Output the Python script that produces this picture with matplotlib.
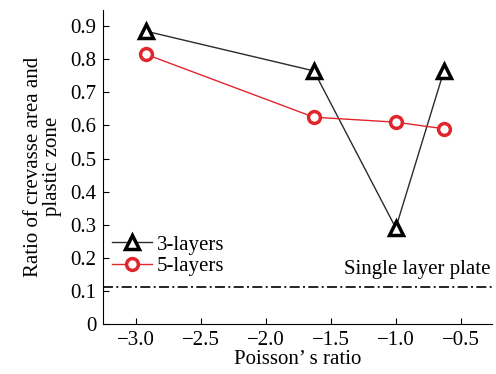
import matplotlib
matplotlib.use("Agg")
import matplotlib.pyplot as plt

# Poisson's ratio vs. ratio of crevasse area to plastic zone
poisson_3 = [-2.92, -1.63, -1.0, -0.63]
ratio_3 = [0.885, 0.765, 0.29, 0.765]
poisson_5 = [-2.92, -1.63, -1.0, -0.63]
ratio_5 = [0.815, 0.625, 0.61, 0.59]
single_layer = 0.113

plt.rcParams['font.family'] = ['Liberation Serif', 'DejaVu Serif']

fig = plt.figure(figsize=(4.96, 3.74), dpi=100)
ax = fig.add_axes([0.208, 0.134, 0.784, 0.84])

ax.plot(poisson_3, ratio_3, color='#2b2b2b', linewidth=1.0, marker='^',
        markersize=9.5, markerfacecolor='white', markeredgecolor='black',
        markeredgewidth=2.5, label='3-layers', zorder=3)
ax.plot(poisson_5, ratio_5, color='#e0262d', linewidth=1.0, marker='o',
        markersize=8.5, markerfacecolor='white', markeredgecolor='#e0262d',
        markeredgewidth=2.5, label='5-layers', zorder=3)
ax.axhline(single_layer, color='black', linestyle='-.', linewidth=1.2,
           dashes=(6, 2, 1.2, 2))
ax.text(-0.27, single_layer + 0.022, 'Single layer plate', ha='right',
        va='bottom', fontsize=15)

ax.set_xlim(-3.25, -0.26)
ax.set_ylim(0, 0.95)
ax.set_xticks([-3.0, -2.5, -2.0, -1.5, -1.0, -0.5])
ax.set_xticklabels(['\u22123.0', '\u22122.5', '\u22122.0', '\u22121.5', '\u22121.0', '\u22120.5'])
ax.set_yticks([0, 0.1, 0.2, 0.3, 0.4, 0.5, 0.6, 0.7, 0.8, 0.9])
ax.set_yticklabels(['0', '0.1', '0.2', '0.3', '0.4', '0.5', '0.6', '0.7', '0.8', '0.9'])
ax.tick_params(direction='in', labelsize=15, length=4, pad=5)
ax.spines['top'].set_visible(False)
ax.spines['right'].set_visible(False)

ax.set_xlabel('Poisson\u2019 s ratio', fontsize=15, labelpad=0)
ax.set_ylabel('Ratio of crevasse area and\nplastic zone', fontsize=15, labelpad=6,
              linespacing=1.0)

ax.legend(loc='lower left', bbox_to_anchor=(-0.014, 0.105), frameon=False,
          fontsize=15, handlelength=1.9, handletextpad=0.25, labelspacing=0.1,
          borderpad=0.2)

fig.savefig('out.png', dpi=100)
